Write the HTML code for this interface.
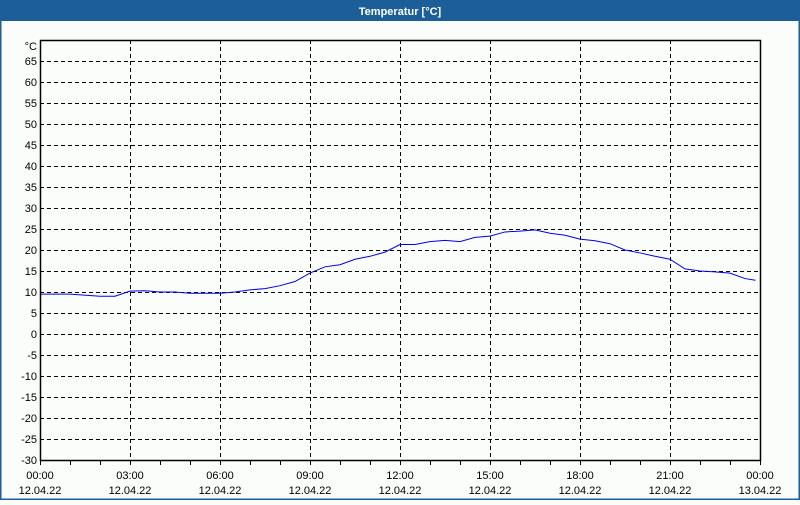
<!DOCTYPE html><html><head><style>body{margin:0;width:800px;height:500px;overflow:hidden;background:#fbfdfb;font-family:"Liberation Sans",sans-serif}</style></head><body>
<svg id="s" width="800" height="500" xmlns="http://www.w3.org/2000/svg" font-family="Liberation Sans, sans-serif" font-size="11">
<rect x="0" y="0" width="800" height="500" fill="#fbfdfb"/>
<rect x="0" y="0" width="800" height="21" fill="#1c5f98"/>
<rect x="0" y="0" width="1.5" height="500" fill="#1c5f98"/>
<rect x="798.5" y="0" width="1.5" height="500" fill="#1c5f98"/>
<rect x="0" y="498.5" width="800" height="1.5" fill="#1c5f98"/>
<text x="400" y="15" fill="#fff" font-weight="bold" text-anchor="middle" font-size="11">Temperatur [°C]</text>
<g id="g"></g>
<rect x="40.5" y="40.5" width="720" height="420" fill="none" stroke="#000" stroke-width="1.5"/>
<text x="37" y="50" text-anchor="end">°C</text>
</svg>
<script>
var g=document.getElementById('g'),h='';
for(var v=65;v>=-30;v-=5){var y=460-(v+30)*4.2;
if(v>-30)h+='<line x1="40" x2="760" y1="'+(y+.5)+'" y2="'+(y+.5)+'" stroke="#000" stroke-dasharray="4,3"/>';
h+='<text x="37" y="'+(y+4)+'" text-anchor="end">'+v+'</text>';}
var labs=['00:00','03:00','06:00','09:00','12:00','15:00','18:00','21:00','00:00'];
for(var i=0;i<=24;i++){var x=40+i*30;
h+='<line x1="'+(x+.5)+'" x2="'+(x+.5)+'" y1="460" y2="465" stroke="#000"/>';
if(i%3==0){var k=i/3;if(k>0&&k<8)h+='<line x1="'+(x+.5)+'" x2="'+(x+.5)+'" y1="40" y2="460" stroke="#000" stroke-dasharray="4,3"/>';
h+='<text x="'+x+'" y="479" text-anchor="middle">'+labs[k]+'</text><text x="'+x+'" y="494" text-anchor="middle">'+(k==8?'13.04.22':'12.04.22')+'</text>';}}
var d=[[0,9.5],[1,9.5],[2,9],[2.5,9],[3,10.2],[3.5,10.3],[4,10],[4.5,10],[5,9.7],[6,9.7],[6.5,10],[7,10.5],[7.5,10.8],[8,11.5],[8.5,12.5],[9,14.5],[9.5,16],[10,16.5],[10.5,17.8],[11,18.5],[11.5,19.5],[12,21.3],[12.5,21.3],[13,22],[13.5,22.3],[14,22],[14.5,23],[15,23.3],[15.5,24.3],[16,24.5],[16.5,24.8],[17,24],[17.5,23.5],[18,22.6],[18.5,22.2],[19,21.5],[19.5,20],[20,19.3],[20.5,18.5],[21,17.8],[21.5,15.5],[22,15],[22.5,14.8],[23,14.5],[23.5,13.2],[23.85,12.8]];
var p=d.map(function(a){return (40+a[0]*30)+','+(460-(a[1]+30)*4.2)}).join(' ');
h+='<polyline points="'+p+'" fill="none" stroke="#0000ee" stroke-width="1"/>';
g.innerHTML=h;
</script></body></html>
